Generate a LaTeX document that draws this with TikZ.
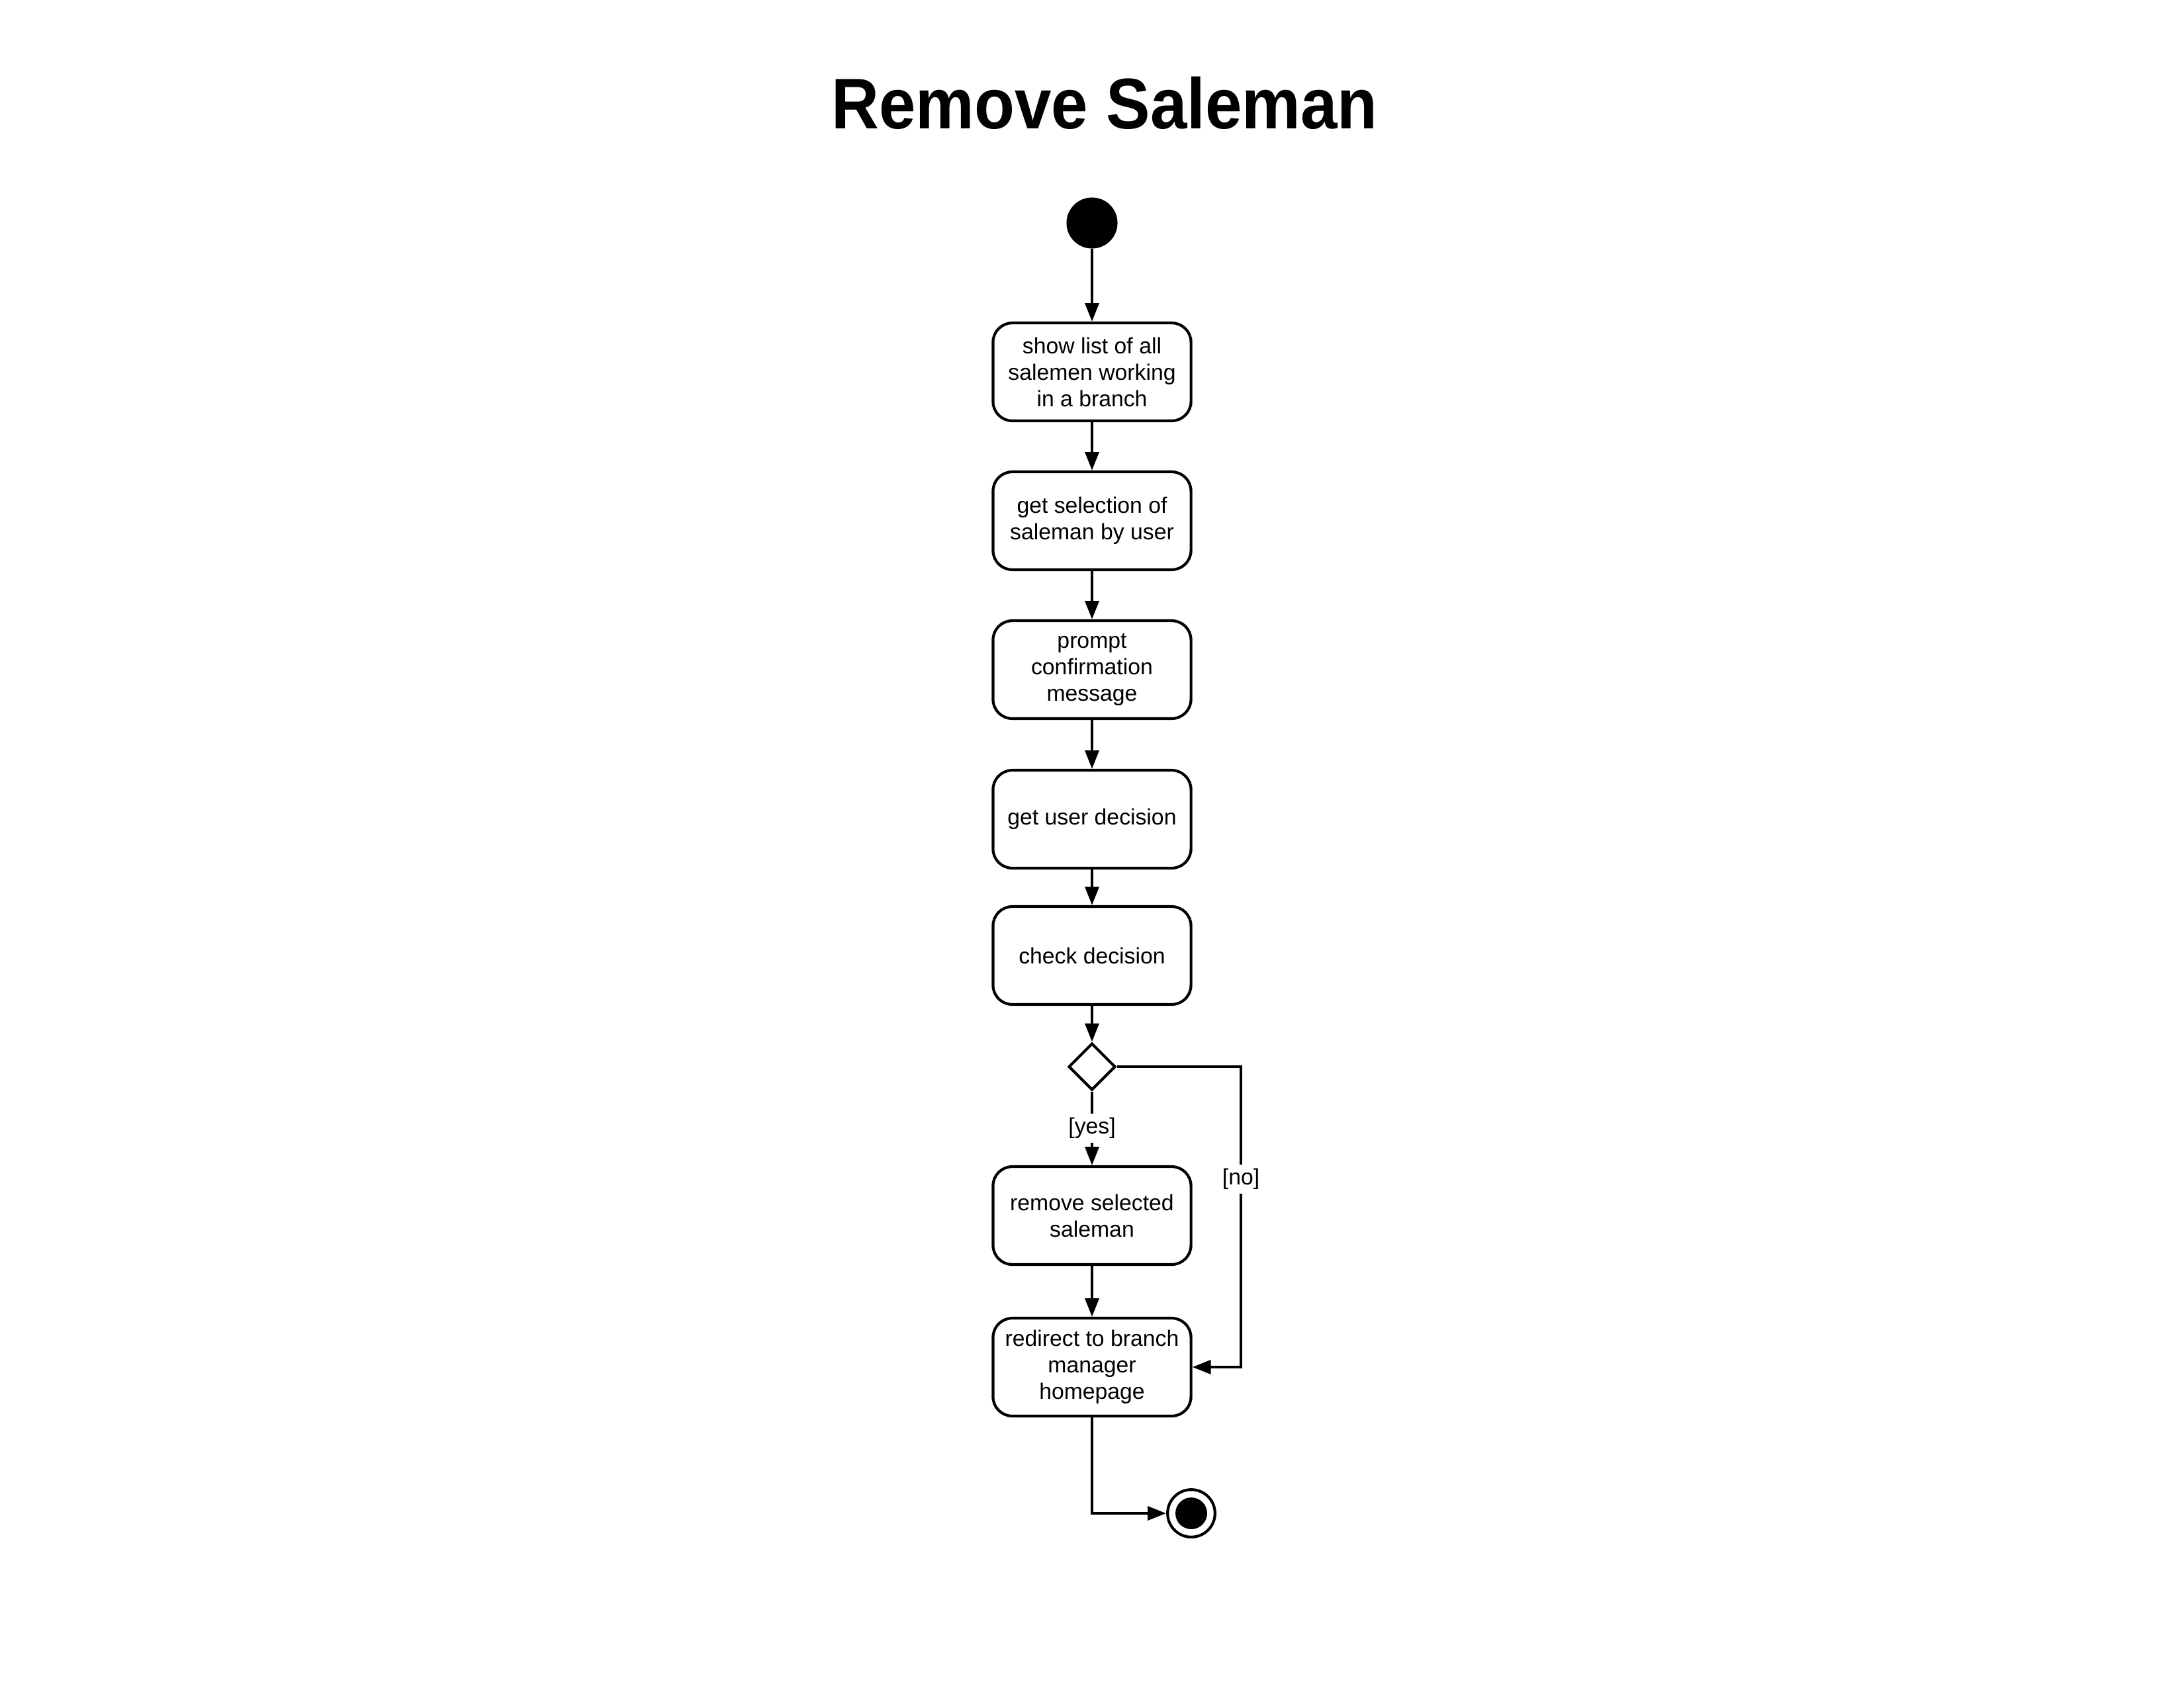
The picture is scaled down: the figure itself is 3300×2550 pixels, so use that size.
\documentclass[tikz,border=0pt]{standalone}
\usepackage{fontspec}
\setmainfont{Liberation Sans}
\usetikzlibrary{arrows.meta,shapes.geometric}
\begin{document}
\begin{tikzpicture}[x=0.24pt,y=-0.24pt,
  act/.style={draw, line width=1pt, rounded corners=7pt, minimum width=71.8pt,
    minimum height=35.5pt, align=center, inner sep=0pt,
    font=\fontsize{8.1}{9.6}\selectfont},
  flow/.style={line width=1pt, -{Triangle[length=6.7pt,width=5pt]}},
  guard/.style={fill=white, inner sep=1.5pt, font=\fontsize{8.1}{9.6}\selectfont}]
\useasboundingbox (0,0) rectangle (3300,2550);
\node[font=\fontsize{26}{30}\selectfont\bfseries, anchor=base] (title) at (1669,194) {\scalebox{0.92}[1]{Remove Saleman}};
\node[circle, fill, minimum size=18.5pt, inner sep=0pt] (start) at (1650,337) {};
\node[act] (b1) at (1650,562) {show list of all\\salemen working\\in a branch};
\node[act] (b2) at (1650,787) {get selection of\\saleman by user};
\node[act] (b3) at (1650,1012) {prompt\\confirmation\\message};
\node[act] (b4) at (1650,1238) {get user decision};
\node[act] (b5) at (1650,1444) {check decision};
\node[diamond, draw, line width=1pt, minimum width=17pt, minimum height=17pt, inner sep=0pt] (dia) at (1650,1612) {};
\node[act] (b6) at (1650,1837) {remove selected\\saleman};
\node[act] (b7) at (1650,2066) {redirect to branch\\manager\\homepage};
\node[circle, draw, line width=1pt, minimum size=17.2pt, inner sep=0pt] (end) at (1800,2287) {};
\node[circle, fill, minimum size=11.5pt, inner sep=0pt] (endin) at (end) {};
\coordinate (nc) at (1875,1612);
\draw[flow] (start) -- (b1);
\draw[flow] (b1) -- (b2);
\draw[flow] (b2) -- (b3);
\draw[flow] (b3) -- (b4);
\draw[flow] (b4) -- (b5);
\draw[flow] (b5) -- (dia);
\draw[flow] (dia.south) -- (b6.north) node[guard, midway] (yes) {[yes]};
\draw[flow] (dia.east) -- (nc) |- (b7.east);
\node[guard] (no) at (1875,1782) {[no]};
\draw[flow] (b6) -- (b7);
\draw[flow] (b7.south) |- (end.west);
\end{tikzpicture}
\end{document}
